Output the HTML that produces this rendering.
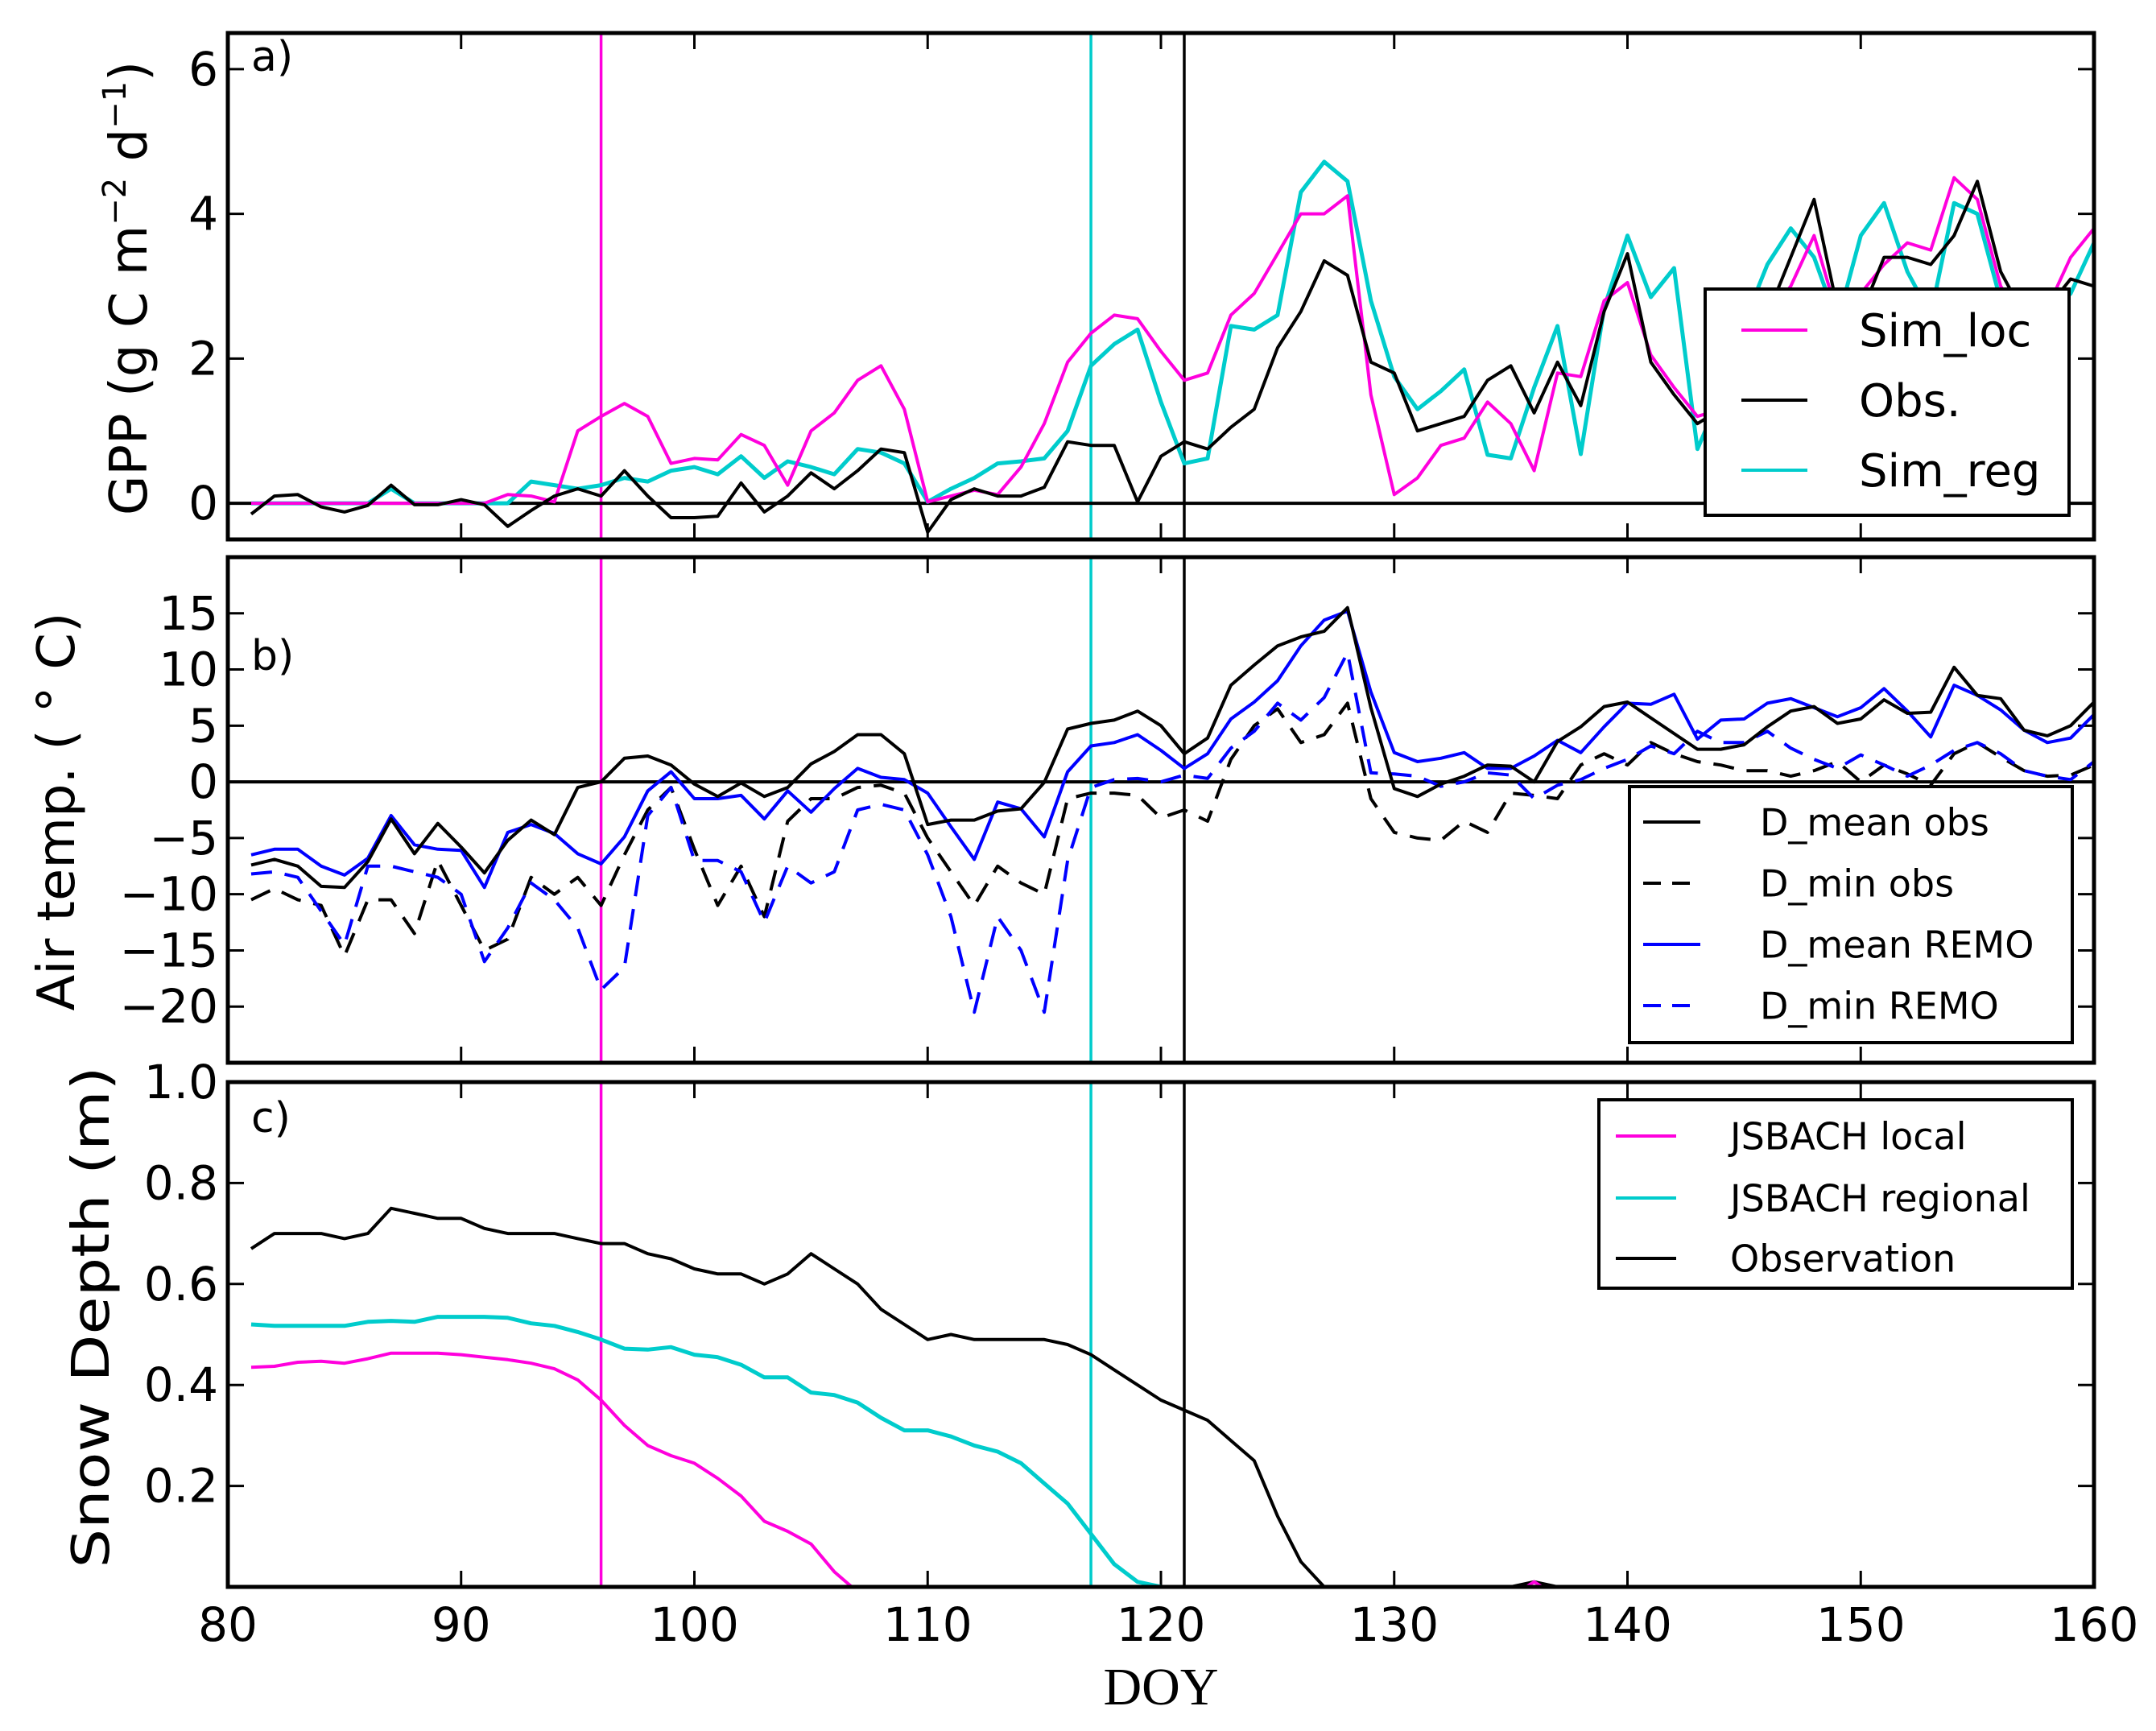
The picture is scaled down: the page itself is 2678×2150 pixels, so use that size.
<!DOCTYPE html>
<html><head><meta charset="utf-8"><style>
html,body{margin:0;padding:0;background:#fff;}
svg{display:block;font-family:"DejaVu Sans","Liberation Sans",sans-serif;}
</style></head><body>
<svg id="chart" width="2678" height="2150" viewBox="0 0 2678 2150" xmlns="http://www.w3.org/2000/svg">
<rect x="0" y="0" width="2678" height="2150" fill="#fff"/>
<g id="plots"></g>
<text x="312" y="88" font-size="52">a)</text>
<text x="312" y="832" font-size="52">b)</text>
<text x="312" y="1406" font-size="52">c)</text>
<text transform="translate(182,358) rotate(-90)" text-anchor="middle" font-size="64">GPP (g C m<tspan font-size="40" dy="-26">−2</tspan><tspan dy="26"> d</tspan><tspan font-size="40" dy="-26">−1</tspan><tspan dy="26">)</tspan></text>
<text transform="translate(92,1008) rotate(-90)" text-anchor="middle" font-size="64" textLength="495" lengthAdjust="spacingAndGlyphs">Air temp. ( ° C)</text>
<text transform="translate(135,1636) rotate(-90)" text-anchor="middle" font-size="64" textLength="623" lengthAdjust="spacingAndGlyphs">Snow Depth (m)</text>
<text x="1442" y="2117" text-anchor="middle" font-size="66" font-family="Liberation Serif, serif">DOY</text>
</svg>
<script>
const days = []; for (let d = 81; d <= 160; d++) days.push(d);
const xTicks = [80, 90, 100, 110, 120, 130, 140, 150, 160];
const gppTicks = [0, 2, 4, 6];
const tempTicks = [-20, -15, -10, -5, 0, 5, 10, 15];
const snowTicks = [0.2, 0.4, 0.6, 0.8, 1.0];
const vlineDays = [96, 117, 121];

const gppObs = [-0.15,0.1,0.12,-0.05,-0.12,-0.03,0.25,-0.02,-0.02,0.05,-0.02,-0.32,-0.1,0.1,0.2,0.1,0.45,0.1,-0.2,-0.2,-0.18,0.28,-0.12,0.1,0.42,0.2,0.45,0.75,0.7,-0.4,0.05,0.2,0.1,0.1,0.22,0.85,0.8,0.8,0.02,0.65,0.85,0.75,1.05,1.3,2.15,2.65,3.35,3.15,1.95,1.8,1.0,1.1,1.2,1.7,1.9,1.25,1.95,1.35,2.65,3.45,1.95,1.5,1.1,1.3,2.0,2.6,3.4,4.2,2.7,2.6,3.4,3.4,3.3,3.7,4.45,3.2,2.6,2.7,3.1,3.0];
const gppLoc = [0,0,0,0,0,0,0,0,0,0,0,0.12,0.1,0.02,1.0,1.2,1.38,1.2,0.55,0.62,0.6,0.95,0.8,0.25,1.0,1.25,1.7,1.9,1.3,0.02,0.1,0.18,0.12,0.5,1.1,1.95,2.35,2.6,2.55,2.1,1.7,1.8,2.6,2.9,3.45,4.0,4.0,4.25,1.5,0.12,0.35,0.8,0.9,1.4,1.1,0.45,1.8,1.75,2.8,3.05,2.05,1.6,1.2,1.3,2.0,2.6,3.0,3.7,2.6,2.9,3.3,3.6,3.5,4.5,4.2,3.0,2.5,2.7,3.4,3.8];
const gppReg = [0,0,0,0,0,0,0.2,0,0,0,0,0,0.3,0.25,0.2,0.25,0.35,0.3,0.45,0.5,0.4,0.65,0.35,0.58,0.5,0.4,0.75,0.7,0.55,0.02,0.2,0.35,0.55,0.58,0.62,1.0,1.9,2.2,2.4,1.4,0.55,0.62,2.45,2.4,2.6,4.3,4.72,4.45,2.8,1.75,1.3,1.55,1.85,0.67,0.62,1.6,2.45,0.68,2.7,3.7,2.85,3.25,0.75,1.5,2.5,3.3,3.8,3.4,2.5,3.7,4.15,3.2,2.6,4.15,4.0,2.8,2.3,2.6,2.9,3.6];

const tMeanObs = [-7.4,-6.9,-7.5,-9.3,-9.4,-7.1,-3.3,-6.4,-3.7,-5.8,-8.1,-5.2,-3.4,-4.7,-0.5,0,2.1,2.3,1.5,-0.2,-1.3,-0.1,-1.3,-0.5,1.6,2.7,4.2,4.2,2.5,-3.8,-3.4,-3.4,-2.6,-2.4,-0.05,4.7,5.2,5.5,6.3,5.0,2.5,3.9,8.6,10.4,12.1,12.9,13.4,15.5,6.6,-0.6,-1.3,-0.2,0.5,1.5,1.4,0,3.6,4.9,6.7,7.1,5.7,4.3,2.9,2.9,3.3,4.9,6.3,6.7,5.2,5.6,7.3,6.1,6.2,10.2,7.7,7.4,4.6,4.1,5.0,7.1];
const tMinObs = [-10.5,-9.5,-10.5,-11,-15.5,-10.5,-10.5,-13.5,-7.0,-11,-15,-14,-8.5,-10,-8.5,-11,-6.5,-2.5,-0.5,-6,-11,-7.5,-12,-3.5,-1.5,-1.5,-0.5,-0.3,-1,-5,-8,-11,-7.5,-9,-10,-1.5,-1,-1,-1.2,-3.2,-2.5,-3.5,2,5,6.5,3.5,4.2,7,-1.5,-4.5,-5,-5.2,-3.5,-4.5,-1,-1.2,-1.5,1.5,2.5,1.5,3.5,2.5,1.8,1.5,1.0,1.0,0.5,1.0,1.8,0,1.5,0.7,-0.3,2.5,3.5,2.2,1.0,0.5,0.6,1.5];
const tMeanRemo = [-6.5,-6.0,-6.0,-7.5,-8.3,-6.8,-3.0,-5.6,-6.0,-6.1,-9.4,-4.5,-3.8,-4.6,-6.4,-7.3,-4.9,-0.8,0.9,-1.5,-1.5,-1.2,-3.3,-0.8,-2.7,-0.6,1.2,0.4,0.2,-1.0,-4.0,-6.9,-1.8,-2.4,-4.9,0.9,3.2,3.5,4.2,2.8,1.2,2.5,5.6,7.1,9.0,12.1,14.4,15.2,8.0,2.6,1.8,2.1,2.6,1.2,1.2,2.3,3.7,2.6,4.9,7.0,6.9,7.8,3.8,5.5,5.6,7.0,7.4,6.6,5.8,6.6,8.3,6.3,4.0,8.6,7.7,6.4,4.6,3.5,3.9,6.0];
const tMinRemo = [-8.2,-8,-8.5,-11.5,-14.5,-7.5,-7.5,-8,-8.5,-10,-16,-13,-9,-10.5,-13,-18.5,-16.5,-3,-0.5,-7,-7,-8,-12.5,-7.5,-9,-8,-2.5,-2,-2.5,-6.5,-12,-20.5,-12,-15,-20.5,-7,-0.5,0.2,0.3,0,0.6,0.3,3,4.5,7,5.5,7.5,11.5,0.8,0.7,0.5,-0.4,0,0.8,0.6,-1.5,-0.3,0.2,1.2,2.0,3.2,2.5,4.5,3.5,3.5,4.5,3,2,1.2,2.4,1.5,0.5,1.5,2.8,3.5,2.5,1.0,0.5,0.2,1.8];

const snowObs = [0.67,0.70,0.70,0.70,0.69,0.70,0.75,0.74,0.73,0.73,0.71,0.70,0.70,0.70,0.69,0.68,0.68,0.66,0.65,0.63,0.62,0.62,0.60,0.62,0.66,0.63,0.60,0.55,0.52,0.49,0.50,0.49,0.49,0.49,0.49,0.48,0.46,0.43,0.40,0.37,0.35,0.33,0.29,0.25,0.14,0.05,0,0,0,0,0,0,0,0,0,0.01,0,0,0,0,0,0,0,0,0,0,0,0,0,0,0,0,0,0,0,0,0,0,0,0];
const snowReg = [0.52,0.517,0.517,0.517,0.517,0.525,0.527,0.525,0.535,0.535,0.535,0.533,0.522,0.517,0.505,0.49,0.472,0.47,0.475,0.46,0.455,0.44,0.415,0.415,0.385,0.38,0.365,0.335,0.31,0.31,0.298,0.28,0.268,0.245,0.205,0.165,0.105,0.045,0.01,0,0,0,0,0,0,0,0,0,0,0,0,0,0,0,0,0,0,0,0,0,0,0,0,0,0,0,0,0,0,0,0,0,0,0,0,0,0,0,0,0];
const snowLoc = [0.435,0.437,0.445,0.447,0.443,0.452,0.463,0.463,0.463,0.46,0.455,0.45,0.443,0.432,0.41,0.37,0.32,0.28,0.26,0.245,0.215,0.18,0.13,0.11,0.085,0.03,-0.01,-0.02,-0.02,-0.02,-0.02,-0.02,-0.02,-0.02,-0.02,-0.02,-0.02,-0.02,-0.02,-0.02,-0.02,-0.02,-0.02,-0.02,-0.02,-0.02,-0.02,-0.02,-0.02,-0.02,-0.02,-0.02,-0.02,-0.02,-0.02,0.01,-0.02,-0.02,-0.02,-0.02,-0.02,-0.02,-0.02,-0.02,-0.02,-0.02,-0.02,-0.02,-0.02,-0.02,-0.02,-0.02,-0.02,-0.02,-0.02,-0.02,-0.02,-0.02,-0.02,-0.02];

const NS = 'http://www.w3.org/2000/svg';
const root = document.getElementById('plots');
const X0 = 283, X1 = 2601;
function xs(d){ return X0 + (d - 80) / 80 * (X1 - X0); }
function mk(tag, attrs, parent){ const e = document.createElementNS(NS, tag); for (const k in attrs) e.setAttribute(k, attrs[k]); (parent||root).appendChild(e); return e; }

const panels = [
  {key:'gpp', top:41, bot:670, min:-0.5, max:6.5, ticks:gppTicks, fmt:v=>String(v)},
  {key:'temp', top:692, bot:1320, min:-25, max:20, ticks:tempTicks, fmt:v=>v<0?'\u2212'+Math.abs(v):String(v)},
  {key:'snow', top:1344, bot:1971, min:0, max:1, ticks:snowTicks, fmt:v=>v.toFixed(1)}
];
panels.forEach(p=>{ p.ys = v => p.bot - (v - p.min)/(p.max - p.min)*(p.bot - p.top); });

function series(p, vals, color, width, dash, name, clipId){
  let d = '';
  vals.forEach((v,i)=>{ d += (i?'L':'M') + xs(days[i]).toFixed(1) + ',' + p.ys(v).toFixed(1); });
  const e = mk('path', {d:d, fill:'none', stroke:color, 'stroke-width':width, 'stroke-linejoin':'round', 'clip-path':'url(#'+clipId+')'});
  if (dash) e.setAttribute('stroke-dasharray', dash);
  
  
}

const defs = mk('defs', {});
panels.forEach((p, pi)=>{
  const cp = mk('clipPath', {id:'clip'+pi}, defs);
  mk('rect', {x:X0, y:p.top, width:X1-X0, height:p.bot-p.top}, cp);
  const vcols = ['#ff00dd', '#00cccc', '#000'];
  vlineDays.forEach((d, j)=>{
    const l = mk('line', {x1:xs(d), x2:xs(d), y1:p.top, y2:p.bot, stroke:vcols[j], 'stroke-width':3.5});
    
    
  });
  if (p.key !== 'snow') {
    const z = mk('line', {x1:X0, x2:X1, y1:p.ys(0), y2:p.ys(0), stroke:'#000', 'stroke-width':4});
    
    
  }
  xTicks.forEach(t=>{
    const x = xs(t);
    mk('line', {x1:x, x2:x, y1:p.bot, y2:p.bot-20, stroke:'#000', 'stroke-width':3});
    mk('line', {x1:x, x2:x, y1:p.top, y2:p.top+20, stroke:'#000', 'stroke-width':3});
  });
  p.ticks.forEach(t=>{
    const y = p.ys(t);
    mk('line', {x1:X0, x2:X0+20, y1:y, y2:y, stroke:'#000', 'stroke-width':3});
    mk('line', {x1:X1, x2:X1-20, y1:y, y2:y, stroke:'#000', 'stroke-width':3});
    const tx = mk('text', {x:X0-12, y:y+20, 'font-size':58, 'text-anchor':'end', fill:'#000'});
    tx.textContent = p.fmt(t);
    
    
  });
});

const P = panels;
series(P[0], gppReg, '#00cccc', 5, null, 'sim-reg-line', 'clip0');
series(P[0], gppLoc, '#ff00dd', 4, null, 'sim-loc-line', 'clip0');
series(P[0], gppObs, '#000', 4, null, 'gpp-obs-line', 'clip0');
series(P[1], tMinObs, '#000', 4, '26,16', 'd-min-obs-line', 'clip1');
series(P[1], tMinRemo, '#0000ff', 4, '26,16', 'd-min-remo-line', 'clip1');
series(P[1], tMeanRemo, '#0000ff', 4, null, 'd-mean-remo-line', 'clip1');
series(P[1], tMeanObs, '#000', 4, null, 'd-mean-obs-line', 'clip1');
series(P[2], snowObs, '#000', 4, null, 'snow-obs-line', 'clip2');
series(P[2], snowReg, '#00cccc', 5, null, 'snow-jsbach-regional-line', 'clip2');
series(P[2], snowLoc, '#ff00dd', 4, null, 'snow-jsbach-local-line', 'clip2');

panels.forEach(p=>{
  const r = mk('rect', {x:X0, y:p.top, width:X1-X0, height:p.bot-p.top, fill:'none', stroke:'#000', 'stroke-width':5});
  
  
});

xTicks.forEach(t=>{
  const tx = mk('text', {x:xs(t), y:2038, 'font-size':58, 'text-anchor':'middle', fill:'#000'});
  tx.textContent = String(t);
  
  
});

function legend(name, box, entries, fs, lx0, lx1, tx){
  const g = mk('g', {});
  
  
  mk('rect', {x:box[0], y:box[1], width:box[2]-box[0], height:box[3]-box[1], fill:'#fff', stroke:'#000', 'stroke-width':4}, g);
  entries.forEach(e=>{
    const l = mk('line', {x1:lx0, x2:lx1, y1:e.y, y2:e.y, stroke:e.c, 'stroke-width':4}, g);
    if (e.dash) l.setAttribute('stroke-dasharray', e.dash);
    const t = mk('text', {x:tx, y:e.y + fs*0.36, 'font-size':fs, fill:'#000'}, g);
    t.textContent = e.t;
    
    
  });
}
legend('gpp-legend', [2118,359,2570,640], [
  {y:410,c:'#ff00dd',t:'Sim_loc'},{y:497,c:'#000',t:'Obs.'},{y:584,c:'#00cccc',t:'Sim_reg'}], 56, 2163, 2245, 2309);
legend('temp-legend', [2024,977,2574,1295], [
  {y:1021,c:'#000',t:'D_mean obs'},{y:1097,c:'#000',t:'D_min obs',dash:'22,14'},
  {y:1173,c:'#0000ff',t:'D_mean REMO'},{y:1249,c:'#0000ff',t:'D_min REMO',dash:'22,14'}], 46, 2041, 2112, 2186);
legend('snow-legend', [1986,1366,2574,1600], [
  {y:1411,c:'#ff00dd',t:'JSBACH local'},{y:1488,c:'#00cccc',t:'JSBACH regional'},{y:1563,c:'#000',t:'Observation'}], 46, 2007, 2082, 2149);
</script>
</body></html>
